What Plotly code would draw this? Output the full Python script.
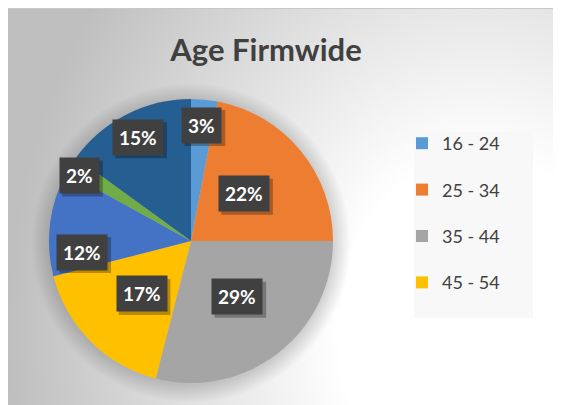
import base64
import math
import plotly.graph_objects as go

# ---------------- data ----------------
categories = ["16 - 24", "25 - 34", "35 - 44", "45 - 54", "55 - 64", "65+", "Undisclosed"]
shares = [3, 22, 29, 17, 12, 2, 15]
legend_categories = ["16 - 24", "25 - 34", "35 - 44", "45 - 54"]
title_text = "Age Firmwide"

# ---------------- styles ----------------
colors = ["#5B9BD5", "#ED7D31", "#A5A5A5", "#FFC000", "#4472C4", "#70AD47", "#255E91"]
label_radius = [0.82, 0.50, 0.51, 0.51, 0.77, 0.91, 0.82]
label_nudge_deg = [0, -2, -2, -2, -13, -2, 0]

W, H = 561, 405
OFF = 8  # page body margin: figure pixel = screen pixel - OFF
FONT = "Lato"
LABEL_SIZE = 19
pie_left, pie_right, pie_top, pie_bottom = 49 - OFF, 333 - OFF, 99 - OFF, 383 - OFF
pie_dom_x = [pie_left / W, pie_right / W]
pie_dom_y = [1 - pie_bottom / H, 1 - pie_top / H]
cx = (pie_left + pie_right) / 2
cy = (pie_top + pie_bottom) / 2
R = min(pie_right - pie_left, pie_bottom - pie_top) / 2

gcx, gcy = 480 - OFF, 330 - OFF
SH = 18

# ---------------- background (gradient + pie shadow) ----------------
svg = f'''<svg xmlns="http://www.w3.org/2000/svg" width="{W}" height="{H}" viewBox="0 0 {W} {H}">
<defs>
<radialGradient id="bg" gradientUnits="userSpaceOnUse" cx="{gcx}" cy="{gcy}" r="470"
 gradientTransform="translate({gcx} {gcy}) scale(1 1.22) translate({-gcx} {-gcy})">
<stop offset="0" stop-color="#ffffff"/>
<stop offset="0.3" stop-color="#ffffff"/>
<stop offset="1" stop-color="#bfbfbf"/>
</radialGradient>
<radialGradient id="sh" gradientUnits="userSpaceOnUse" cx="{cx}" cy="{cy + 2}" r="{R + SH}">
<stop offset="{R / (R + SH):.3f}" stop-color="#000" stop-opacity="0.16"/>
<stop offset="1" stop-color="#000" stop-opacity="0"/>
</radialGradient>
</defs>
<rect x="0" y="0" width="{W}" height="{H}" fill="url(#bg)"/>
<line x1="0" y1="0.5" x2="{W}" y2="0.5" stroke="#c8c8c8" stroke-width="1"/>
<circle cx="{cx}" cy="{cy + 2}" r="{R + SH}" fill="url(#sh)"/>
</svg>'''
bg_uri = "data:image/svg+xml;base64," + base64.b64encode(svg.encode()).decode()

fig = go.Figure()

fig.add_trace(go.Pie(
    labels=categories,
    values=shares,
    sort=False,
    direction="clockwise",
    rotation=0,
    marker=dict(colors=colors, line=dict(width=0)),
    textinfo="none",
    hoverinfo="label+percent",
    showlegend=False,
    domain=dict(x=pie_dom_x, y=pie_dom_y),
))

# legend entries (only the visible ones)
for cat in legend_categories:
    col = colors[categories.index(cat)]
    fig.add_trace(go.Scatter(
        x=[None], y=[None], mode="markers", name=cat, legendgroup=cat,
        marker=dict(symbol="square", size=12, color=col),
        showlegend=True, hoverinfo="skip",
    ))

# data labels (dark boxes with a soft offset shadow)
annotations = []
shapes = [dict(type="rect", xref="paper", yref="paper",
               x0=(414 - OFF) / W, x1=(533 - OFF) / W,
               y0=1 - (318 - OFF) / H, y1=1 - (132 - OFF) / H,
               fillcolor="#f8f8f8", line=dict(width=0), layer="below")]
total = sum(shares)
cum = 0
for i, v in enumerate(shares):
    mid = (cum + v / 2) / total * 360 + label_nudge_deg[i]
    cum += v
    th = math.radians(mid)
    px = cx + R * label_radius[i] * math.sin(th)
    py = cy - R * label_radius[i] * math.cos(th)
    txt = f"{round(100 * v / total)}%"
    xp, yp = px / W, 1 - py / H
    # approximate box size for the shadow
    bw = 14 + 0.58 * LABEL_SIZE * (len(txt) - 1) + 0.82 * LABEL_SIZE
    bh = 36
    shapes.append(dict(type="rect", xref="paper", yref="paper",
                       xsizemode="pixel", ysizemode="pixel", xanchor=xp, yanchor=yp,
                       x0=-bw / 2 + 3, x1=bw / 2 + 3, y0=-bh / 2 - 3, y1=bh / 2 - 3,
                       fillcolor="rgba(0,0,0,0.28)", line=dict(width=0), layer="above"))
    annotations.append(dict(x=xp, y=yp, xref="paper", yref="paper",
                            showarrow=False, borderpad=6, text=txt,
                            xanchor="center", yanchor="middle",
                            bgcolor="#404040",
                            font=dict(family=FONT, size=LABEL_SIZE, color="#ffffff", weight="bold")))

fig.update_layout(
    width=W, height=H, autosize=False,
    margin=dict(l=0, r=0, t=0, b=0),
    paper_bgcolor="#ffffff",
    plot_bgcolor="rgba(0,0,0,0)",
    xaxis=dict(visible=False),
    yaxis=dict(visible=False),
    title=dict(text=title_text, x=(266 - OFF) / W, xanchor="center",
               y=1 - (50 - OFF) / H, yanchor="middle",
               xref="paper", yref="paper",
               font=dict(family=FONT, size=31, color="#404040", weight="bold")),
    legend=dict(x=(402 - OFF) / W, y=1 - 117 / H, xanchor="left", yanchor="top",
                bgcolor="rgba(0,0,0,0)", borderwidth=0,
                font=dict(family=FONT, size=18, color="#404040"),
                tracegroupgap=20, itemwidth=30, itemclick=False),
    images=[dict(source=bg_uri, xref="paper", yref="paper", x=0, y=1, sizex=1, sizey=1,
                 xanchor="left", yanchor="top", sizing="stretch", layer="below")],
    shapes=shapes,
    annotations=annotations,
)

fig.write_html("out.html")
